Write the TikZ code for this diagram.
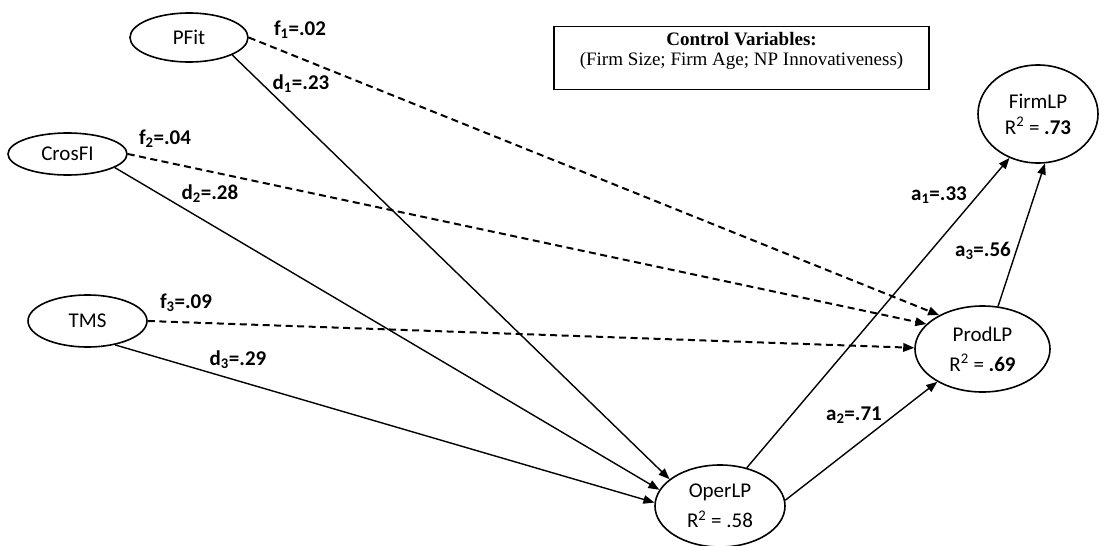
\documentclass[tikz,border=0pt]{standalone}
\usepackage{fontspec}
\setmainfont{Carlito}
\newfontfamily\boxfont{Liberation Serif}
\usetikzlibrary{shapes.geometric,arrows.meta}

\begin{document}
\begin{tikzpicture}[x=1pt,y=-1pt,
  latent/.style={draw, line width=1.6pt, ellipse, inner sep=0pt, align=center,
                 font=\fontsize{21}{30}\selectfont},
  effect/.style={line width=1.4pt, -{Triangle[length=11pt,width=8.5pt]}},
  indirect/.style={effect, line width=2pt, dash pattern=on 7pt off 4.5pt},
  coef/.style={font=\fontsize{21}{24}\selectfont\bfseries, inner sep=0pt},
  controlbox/.style={draw, line width=1.4pt, minimum width=375pt, minimum height=63pt,
                     inner sep=0pt},
  controltext/.style={align=center, inner sep=0pt, font=\boxfont\fontsize{19}{20.5}\selectfont}
]
\useasboundingbox (0,0) rectangle (1103,546);

% antecedents
\node[latent, minimum width=118pt, minimum height=49pt] (pfit)   at (189,37.5) {PFit};
\node[latent, minimum width=119pt, minimum height=42pt] (crosfi) at (67.5,154) {CrosFI};
\node[latent, minimum width=119pt, minimum height=52pt] (tms)    at (87.5,321) {TMS};

% outcomes
\node[latent, minimum width=130pt, minimum height=82pt] (operlp) at (720,506)
  {OperLP\\R\textsuperscript{2} = .58};
\node[latent, minimum width=135pt, minimum height=86pt] (prodlp) at (982.5,349)
  {ProdLP\\R\textsuperscript{2} = \textbf{.69}};
\node[latent, minimum width=120pt, minimum height=98pt, font=\fontsize{21}{26}\selectfont]
  (firmlp) at (1038,114) {FirmLP\\R\textsuperscript{2} = \textbf{.73}};

% control variables
\node[controlbox, anchor=north] (ctrl) at (741.5,26) {};
\node[controltext] (ctrltext) at (741.5,51)
  {\textbf{Control Variables:}\\(Firm Size; Firm Age; NP Innovativeness)};

% direct paths to OperLP
\draw[effect] (pfit.-22)   -- (operlp.152);
\draw[effect] (crosfi.-16) -- (operlp.165);
\draw[effect] (tms.-41)    -- (operlp.177);

% paths to ProdLP
\draw[indirect] (pfit.east)   -- (prodlp.142);
\draw[indirect] (crosfi.east) -- (prodlp.156);
\draw[indirect] (tms.east)    -- (prodlp.179);

% outcome chain
\draw[effect] (operlp.55) -- (firmlp.-123);
\draw[effect] (operlp.5)  -- (prodlp.-144);
\draw[effect] (prodlp.70) -- (firmlp.-82);

% coefficients
\node[coef] (lf1) at (300,30)  {f\textsubscript{1}=.02};
\node[coef] (ld1) at (301,84)  {d\textsubscript{1}=.23};
\node[coef] (lf2) at (165,139) {f\textsubscript{2}=.04};
\node[coef] (ld2) at (210,194) {d\textsubscript{2}=.28};
\node[coef] (lf3) at (186,303) {f\textsubscript{3}=.09};
\node[coef] (ld3) at (238,360) {d\textsubscript{3}=.29};
\node[coef] (la1) at (939,195) {a\textsubscript{1}=.33};
\node[coef] (la3) at (983,251) {a\textsubscript{3}=.56};
\node[coef] (la2) at (854,415) {a\textsubscript{2}=.71};
\end{tikzpicture}
\end{document}
